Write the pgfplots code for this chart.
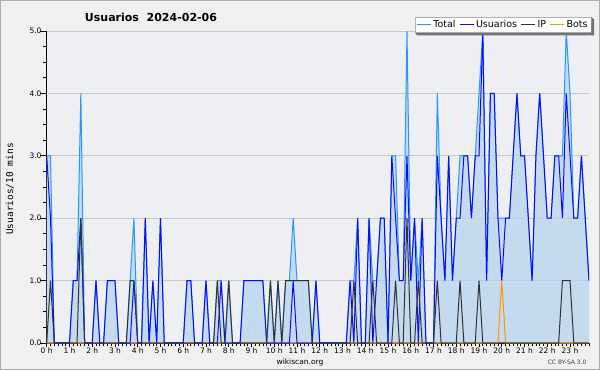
\documentclass[border=0pt]{standalone}
\usepackage{pgfplots}
\pgfplotsset{compat=1.18}
\usepackage{pgfplotstable}
\usepackage{fontspec}
\setmainfont{DejaVu Sans}
\newfontfamily\mono{DejaVu Sans Mono}
\definecolor{outerbg}{RGB}{240,240,240}
\definecolor{plotbg}{RGB}{237,239,242}
\definecolor{gridc}{RGB}{200,200,203}
\definecolor{fillc}{RGB}{179,210,239}
\definecolor{totc}{RGB}{40,150,255}
\definecolor{usrc}{RGB}{10,10,255}
\definecolor{ipc}{RGB}{50,50,50}
\definecolor{botc}{RGB}{255,153,0}
\pgfplotsset{
  layers/mylayers/.define layer set={axis background,axis grid,main,axis ticks,axis lines,axis tick labels,axis descriptions,axis foreground}{},
}
\pgfplotstableread{
i T U IP B
0 3 3 0 0
1 3 2 1 0
2 0 0 0 0
3 0 0 0 0
4 0 0 0 0
5 0 0 0 0
6 0 0 0 0
7 1 1 0 0
8 1 1 0 0
9 4 2 2 0
10 0 0 0 0
11 0 0 0 0
12 0 0 0 0
13 1 1 0 0
14 0 0 0 0
15 0 0 0 0
16 1 1 0 0
17 1 1 0 0
18 1 1 0 0
19 0 0 0 0
20 0 0 0 0
21 0 0 0 0
22 1 0 1 0
23 2 1 1 0
24 0 0 0 0
25 0 0 0 0
26 2 2 0 0
27 0 0 0 0
28 1 1 0 0
29 0 0 0 0
30 2 2 0 0
31 0 0 0 0
32 0 0 0 0
33 0 0 0 0
34 0 0 0 0
35 0 0 0 0
36 0 0 0 0
37 1 1 0 0
38 1 1 0 0
39 0 0 0 0
40 0 0 0 0
41 0 0 0 0
42 1 1 0 0
43 0 0 0 0
44 0 0 0 0
45 1 0 1 0
46 1 1 0 0
47 0 0 0 0
48 1 0 1 0
49 0 0 0 0
50 0 0 0 0
51 0 0 0 0
52 1 1 0 0
53 1 1 0 0
54 1 1 0 0
55 1 1 0 0
56 1 1 0 0
57 1 1 0 0
58 0 0 0 0
59 1 0 1 0
60 0 0 0 0
61 1 0 1 0
62 0 0 0 0
63 1 0 1 0
64 1 0 1 0
65 2 1 1 0
66 1 0 1 0
67 1 0 1 0
68 1 0 1 0
69 1 0 1 0
70 0 0 0 0
71 1 1 0 0
72 0 0 0 0
73 0 0 0 0
74 0 0 0 0
75 0 0 0 0
76 0 0 0 0
77 0 0 0 0
78 0 0 0 0
79 0 0 0 0
80 1 1 0 0
81 1 0 1 0
82 2 2 0 0
83 0 0 0 0
84 0 0 0 0
85 2 2 0 0
86 1 0 1 0
87 1 1 0 0
88 2 2 0 0
89 2 2 0 0
90 0 0 0 0
91 3 3 0 0
92 3 2 1 0
93 1 1 0 0
94 1 1 0 0
95 5 3 2 0
96 1 1 0 0
97 2 2 0 0
98 1 0 1 0
99 2 2 0 0
100 0 0 0 0
101 0 0 0 0
102 0 0 0 0
103 4 3 1 0
104 2 2 0 0
105 1 1 0 0
106 3 3 0 0
107 1 1 0 0
108 2 2 0 0
109 3 2 1 0
110 3 3 0 0
111 3 3 0 0
112 2 2 0 0
113 3 3 0 0
114 4 3 1 0
115 5 5 0 0
116 1 1 0 0
117 4 4 0 0
118 4 4 0 0
119 2 2 0 0
120 2 1 0 1
121 2 2 0 0
122 2 2 0 0
123 3 3 0 0
124 4 4 0 0
125 3 3 0 0
126 3 3 0 0
127 2 2 0 0
128 1 1 0 0
129 3 3 0 0
130 4 4 0 0
131 3 3 0 0
132 2 2 0 0
133 2 2 0 0
134 3 3 0 0
135 3 3 0 0
136 3 2 1 0
137 5 4 1 0
138 4 3 1 0
139 2 2 0 0
140 2 2 0 0
141 3 3 0 0
142 2 2 0 0
143 1 1 0 0
}\data
\begin{document}
\begin{tikzpicture}
\fill[outerbg] (0pt,0pt) rectangle (600pt,370pt);
\draw[gray!65, line width=1pt] (0.5pt,0.5pt) rectangle (599.5pt,369.5pt);
\begin{axis}[
  set layers=mylayers,
  at={(46.7pt,27pt)}, anchor=south west,
  scale only axis, width=542.3pt, height=312pt,
  xmin=0, xmax=143, ymin=0, ymax=5,
  axis x line*=bottom, axis y line*=left,
  axis line style={black, line width=1.2pt, -},
  axis background/.style={fill=plotbg},
  xtick={0,6,...,138},
  xticklabels={0 h,1 h,2 h,3 h,4 h,5 h,6 h,7 h,8 h,9 h,10 h,11 h,12 h,13 h,14 h,15 h,16 h,17 h,18 h,19 h,20 h,21 h,22 h,23 h},
  minor xtick={0,1,...,143},
  ytick={0,1,2,3,4,5},
  yticklabels={0.0,1.0,2.0,3.0,4.0,5.0},
  minor ytick={0.25,0.5,...,4.75},
  tick align=outside,
  major tick length=4pt, minor tick length=3.3pt,
  ytick style={/pgfplots/major tick length=6.7pt, /pgfplots/minor tick length=4pt},
  tick style={black, line width=0.7pt},
  ymajorgrids, grid style={gridc, line width=0.8pt},
  xticklabel style={font=\fontsize{7.5}{8}\selectfont, inner sep=1pt},
  yticklabel style={font=\fontsize{7.5}{8}\selectfont, inner sep=1pt},
  legend columns=4,
  legend style={at={(axis description cs:1.0037,1.045)}, anchor=north east,
    name=leg,
    draw=gray!60, fill=white, font=\fontsize{9.5}{10}\selectfont,
    inner sep=1.2pt, row sep=0pt,
    /tikz/every even column/.append style={column sep=1.5pt}},
  legend image code/.code={\draw[#1, line width=1pt] (0pt,0pt) -- (14pt,0pt);},
]
\addplot[draw=none, fill=fillc, fill opacity=0.7, forget plot] table[x=i,y=T] {\data} \closedcycle;
\addplot[botc, line width=1pt, forget plot] table[x=i,y=B] {\data};
\addplot[totc, line width=1pt, forget plot] table[x=i,y=T] {\data};
\addplot[usrc, line width=1pt, forget plot] table[x=i,y=U] {\data};
\addplot[ipc, line width=1pt, forget plot] table[x=i,y=IP] {\data};
\addlegendimage{totc, line width=1pt}
\addlegendentry{Total}
\addlegendimage{usrc, line width=1pt}
\addlegendentry{Usuarios}
\addlegendimage{ipc, line width=1pt}
\addlegendentry{IP}
\addlegendimage{botc, line width=1pt}
\addlegendentry{Bots}
\end{axis}
\fill[gray!90!black] ([xshift=0.4pt]leg.north east) -- ([xshift=3pt,yshift=-2.5pt]leg.north east) -- ([xshift=3pt,yshift=-3pt]leg.south east) -- ([xshift=2.5pt,yshift=-3pt]leg.south west) -- ([yshift=-0.4pt]leg.south west) -- ([xshift=0.4pt,yshift=-0.4pt]leg.south east) -- cycle;
\node[font=\bfseries\fontsize{11}{12}\selectfont] at (151pt,353pt) {Usuarios\ \ 2024-02-06};
\node[rotate=90, font=\mono\fontsize{9.5}{10}\selectfont] at (10pt,181pt) {Usuarios/10 mins};
\node[font=\fontsize{7.5}{8}\selectfont] at (300pt,8pt) {wikiscan.org};
\node[font=\fontsize{6}{7}\selectfont, anchor=east, text=black!75] at (590pt,8pt) {CC BY-SA 3.0};
\pgfresetboundingbox
\path[use as bounding box] (0pt,0pt) rectangle (600pt,370pt);
\end{tikzpicture}
\end{document}
